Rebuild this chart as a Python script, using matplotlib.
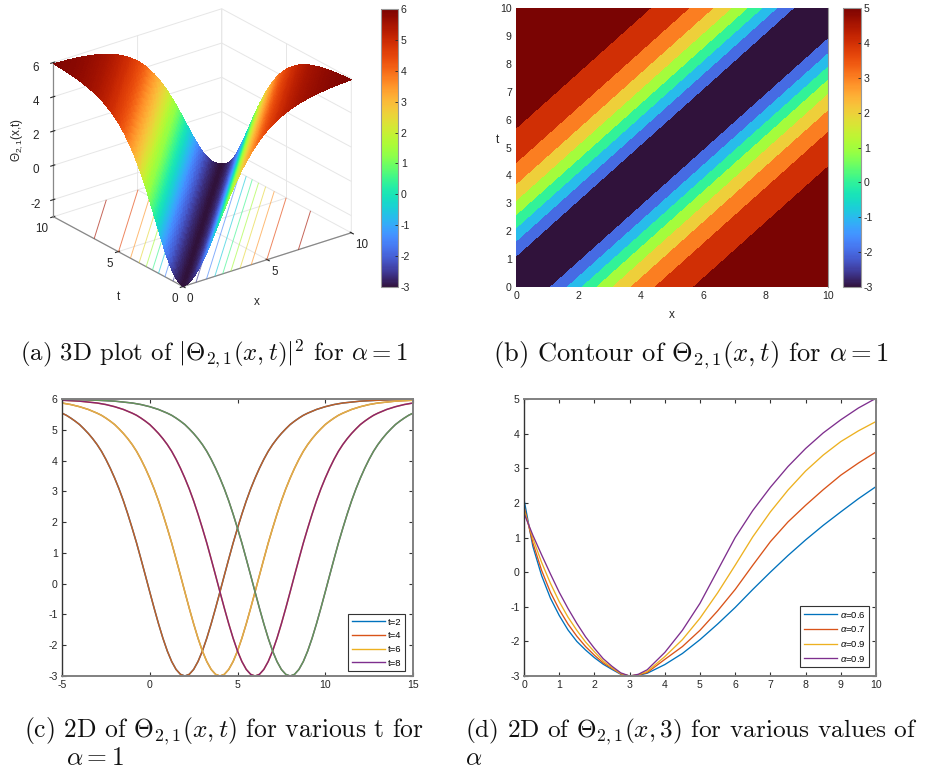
import numpy as np
import matplotlib
matplotlib.use("Agg")
import matplotlib.pyplot as plt
from matplotlib.cm import ScalarMappable
from matplotlib.colors import Normalize

plt.rcParams['font.family'] = ['Liberation Sans', 'DejaVu Sans']
plt.rcParams['mathtext.fontset'] = 'custom'
plt.rcParams['mathtext.rm'] = 'Liberation Sans'
plt.rcParams['mathtext.it'] = 'Liberation Sans:italic'
plt.rcParams['mathtext.bf'] = 'Liberation Sans:bold'
plt.rcParams['axes.unicode_minus'] = False

# ---- data ----
offsets = [0, .25, .5, .75, 1, 1.25, 1.5, 1.75, 2, 2.25, 2.5, 2.75, 3, 3.25, 3.5, 3.75, 4, 4.25, 4.5, 4.75, 5,
           5.25, 5.5, 5.75, 6, 6.25, 6.5, 6.75, 7, 7.5, 8, 8.5, 9, 9.5, 10, 11, 12, 13, 15, 20]
profile = [-3, -2.946, -2.787, -2.53, -2.188, -1.773, -1.303, -.796, -.267, .27, .8, 1.32, 1.8, 2.26, 2.69, 3.08,
           3.43, 3.75, 4.04, 4.3, 4.52, 4.71, 4.88, 5.03, 5.17, 5.28, 5.38, 5.47, 5.54, 5.66, 5.75, 5.82, 5.87,
           5.9, 5.93, 5.96, 5.98, 5.99, 6.0, 6.0]
t_values = [2, 4, 6, 8]
t_labels = ['t=2', 't=4', 't=6', 't=8']
t_colors = ['#0072BD', '#D95319', '#EDB120', '#7E2F8E']
t_overlay = ['#BE5F28', '#DCB04A', '#8C2370', '#64965A']
c_xticks = [-5, 0, 5, 10, 15]
c_yticks = list(range(-3, 7))

x_d = [0, .25, .5, .75, 1, 1.25, 1.5, 1.75, 2, 2.25, 2.5, 2.75, 3, 3.25, 3.5, 4, 4.5, 5, 5.5, 6, 6.5, 7, 7.5, 8, 8.5, 9, 9.5, 10]
a06 = [2.1, .75, -.1, -.75, -1.25, -1.67, -2.0, -2.25, -2.47, -2.66, -2.81, -2.95, -3, -2.98, -2.92, -2.67, -2.35, -1.95, -1.5, -1.02, -.5, 0, .48, .93, 1.35, 1.74, 2.12, 2.47]
a07 = [1.9, .85, .05, -.58, -1.08, -1.5, -1.85, -2.15, -2.4, -2.62, -2.78, -2.94, -3, -2.97, -2.9, -2.52, -2.15, -1.68, -1.12, -.5, .2, .88, 1.45, 1.93, 2.38, 2.8, 3.15, 3.47]
a09a = [1.8, .98, .28, -.32, -.85, -1.3, -1.68, -2.02, -2.3, -2.57, -2.76, -2.93, -3, -2.96, -2.87, -2.44, -1.95, -1.33, -.6, .2, 1.02, 1.74, 2.37, 2.92, 3.38, 3.77, 4.08, 4.35]
a09b = [1.7, 1.07, .5, -.05, -.58, -1.05, -1.48, -1.87, -2.2, -2.5, -2.72, -2.91, -3, -2.95, -2.82, -2.32, -1.68, -.9, .05, 1.0, 1.78, 2.45, 3.05, 3.57, 4.02, 4.4, 4.74, 5.02]
d_series = [a06, a07, a09a, a09b]
d_labels = [r'$\alpha$=0.6', r'$\alpha$=0.7', r'$\alpha$=0.9', r'$\alpha$=0.9']
d_colors = t_colors
contour_levels = [-3, -2, -1, 0, 1, 2, 3, 4, 5, 6]

W, H = 931, 772
fig = plt.figure(figsize=(W/100, H/100), dpi=100)

def box(l, t, r, b):
    return [l/W, 1-b/H, (r-l)/W, (b-t)/H]

TXT = '#262626'

def cbar(l, t, r, b, vmin, vmax, ticks):
    cax = fig.add_axes(box(l, t, r, b))
    cb = fig.colorbar(ScalarMappable(Normalize(vmin, vmax), 'turbo'), cax=cax, ticks=ticks)
    cb.outline.set_edgecolor('#999999')
    cb.outline.set_linewidth(0.8)
    cax.tick_params(length=2, width=.6, pad=2, labelsize=7.6, direction='in', colors=TXT)

# ---- (a) ----
sgrid = np.linspace(0, 10, 181)
X, T = np.meshgrid(sgrid, sgrid)
Z = np.interp(np.abs(X-T), offsets, profile)

ax = fig.add_axes(box(10, -27.5, 385, 332.5), projection='3d', computed_zorder=False)
ax.set_proj_type('ortho')
ax.view_init(elev=24.5, azim=-127.6)
ax.set_box_aspect((213, 213, 170), zoom=.93)
ax.patch.set_alpha(0)
ax.contour(X, T, Z, levels=[-2.5, -1.5, -.5, .5, 1.5, 2.5, 3.5, 4.5, 5.5], zdir='z', offset=-3, cmap='turbo',
           vmin=-3, vmax=6, linewidths=.7, alpha=.65, zorder=1)
ax.plot_surface(X, T, Z, cmap='turbo', vmin=-3, vmax=6, rstride=1, cstride=1, linewidth=0, antialiased=False, zorder=2)
ax.set_xlim(0, 10, view_margin=0)
ax.set_ylim(0, 10, view_margin=0)
ax.set_zlim(-3, 6, view_margin=0)
ax.set_xticks([0, 5, 10])
ax.set_yticks([0, 5, 10])
ax.set_zticks([-2, 0, 2, 4, 6])
for a in (ax.xaxis, ax.yaxis, ax.zaxis):
    a.set_pane_color((1, 1, 1, 0))
    a.pane.set_edgecolor('#dddddd')
    a.line.set_color('#888888')
    a.line.set_linewidth(.9)
    a._axinfo['grid']['color'] = '#e6e6e6'
    a._axinfo['grid']['linewidth'] = .7
    a._axinfo['tick']['color'] = '#888888'
ax.tick_params(labelsize=8.4, colors=TXT)
ax.tick_params(axis='x', pad=-4)
ax.tick_params(axis='y', pad=-4)
ax.tick_params(axis='z', pad=0)
for lab in ax.get_xticklabels():
    lab.set_ha('left')
for lab in ax.get_yticklabels():
    lab.set_ha('right')
cbar(381, 9, 398, 287, -3, 6, list(range(-3, 7)))
fig.text(17/W, 1-140/H, r'$\Theta_{2,1}$(x,t)', rotation=90, ha='center', va='center', fontsize=8.5, color=TXT)
fig.text(118/W, 1-297/H, 't', ha='center', va='center', fontsize=8.5, color=TXT)
fig.text(257/W, 1-302/H, 'x', ha='center', va='center', fontsize=8.5, color=TXT)

# ---- (b) ----
ax = fig.add_axes(box(516, 8, 828, 287))
cgrid = np.linspace(0, 10, 401)
XX, TT = np.meshgrid(cgrid, cgrid)
ZZ = np.interp(np.abs(XX-TT), offsets, profile)
ax.contourf(XX, TT, ZZ, levels=contour_levels, colors=[plt.get_cmap('turbo')(v) for v in np.linspace(0, 1, 9)])
ax.set_xlim(0, 10)
ax.set_ylim(0, 10)
ax.set_xticks(range(0, 11, 2))
ax.set_yticks(range(0, 11))
ax.tick_params(length=0, pad=3, labelsize=7.6, colors=TXT)
for s in ('top', 'left', 'bottom'):
    ax.spines[s].set_visible(False)
ax.spines['right'].set_color('#999999')
fig.text(672/W, 1-315/H, 'x', ha='center', va='center', fontsize=8.5, color=TXT)
fig.text(497/W, 1-140/H, 't', ha='center', va='center', fontsize=8.5, color=TXT)
cbar(843, 8, 861, 287, -3, 5, list(range(-3, 6)))

def style2d(ax):
    for s in ('top', 'bottom', 'right'):
        ax.spines[s].set_color('#808080')
        ax.spines[s].set_linewidth(1.4)
    ax.spines['left'].set_color('#333333')
    ax.spines['left'].set_linewidth(1.0)
    ax.tick_params(direction='in', top=True, right=True, length=3, width=.8, pad=3, labelsize=7.6, color='#333333', labelcolor=TXT)

leg_kw = dict(loc='lower right', bbox_transform=fig.transFigure, fontsize=6.8, frameon=True, fancybox=False,
              edgecolor='#333333', framealpha=1, borderaxespad=0, borderpad=.35, labelspacing=.5,
              handlelength=3.5, handletextpad=.35)

# ---- (c) ----
ax = fig.add_axes(box(62, 399, 413, 676))
signed = np.r_[-np.array(offsets[:0:-1]), offsets]
prof2 = np.r_[np.array(profile[:0:-1]), profile]
for tv, lab, col, over in zip(t_values, t_labels, t_colors, t_overlay):
    ax.plot(signed+tv, prof2, color=col, lw=1.0, label=lab)
    ax.plot(signed+tv, prof2, color=over, lw=1.1)
ax.set_xlim(-5, 15)
ax.set_ylim(-3, 6)
ax.set_xticks(c_xticks)
ax.set_yticks(c_yticks)
style2d(ax)
leg = ax.legend(bbox_to_anchor=(405/W, 1-671/H), **leg_kw)
leg.get_frame().set_linewidth(.8)

# ---- (d) ----
ax = fig.add_axes(box(524, 399, 876, 676))
for ys, lab, col in zip(d_series, d_labels, d_colors):
    ax.plot(x_d, ys, color=col, lw=.95, label=lab)
ax.set_xlim(0, 10)
ax.set_ylim(-3, 5)
ax.set_xticks(range(0, 11))
ax.set_yticks(range(-3, 6))
style2d(ax)
leg = ax.legend(bbox_to_anchor=(869/W, 1-667/H), **leg_kw)
leg.get_frame().set_linewidth(.8)

# ---- captions ----
def cap(x, y, s, size=18.4):
    fig.text(x/W, 1-y/H, s, fontfamily='cmr10', math_fontfamily='cm', fontsize=size, ha='left', va='baseline', color='#111111')

cap(20, 361, r'(a) 3D plot of $\vert\Theta_{2,1}(x,t)\vert^2$ for $\alpha=1$', 17.9)
cap(493, 361, r'(b) Contour of $\Theta_{2,1}(x,t)$ for $\alpha=1$', 19.1)
cap(24, 737, r'(c) 2D of $\Theta_{2,1}(x,t)$ for various t for')
cap(66, 765, r'$\alpha=1$')
cap(465, 737, r'(d) 2D of $\Theta_{2,1}(x,3)$ for various values of', 18.2)
cap(465, 765, r'$\alpha$', 18.2)

fig.savefig('out.png', dpi=100)
